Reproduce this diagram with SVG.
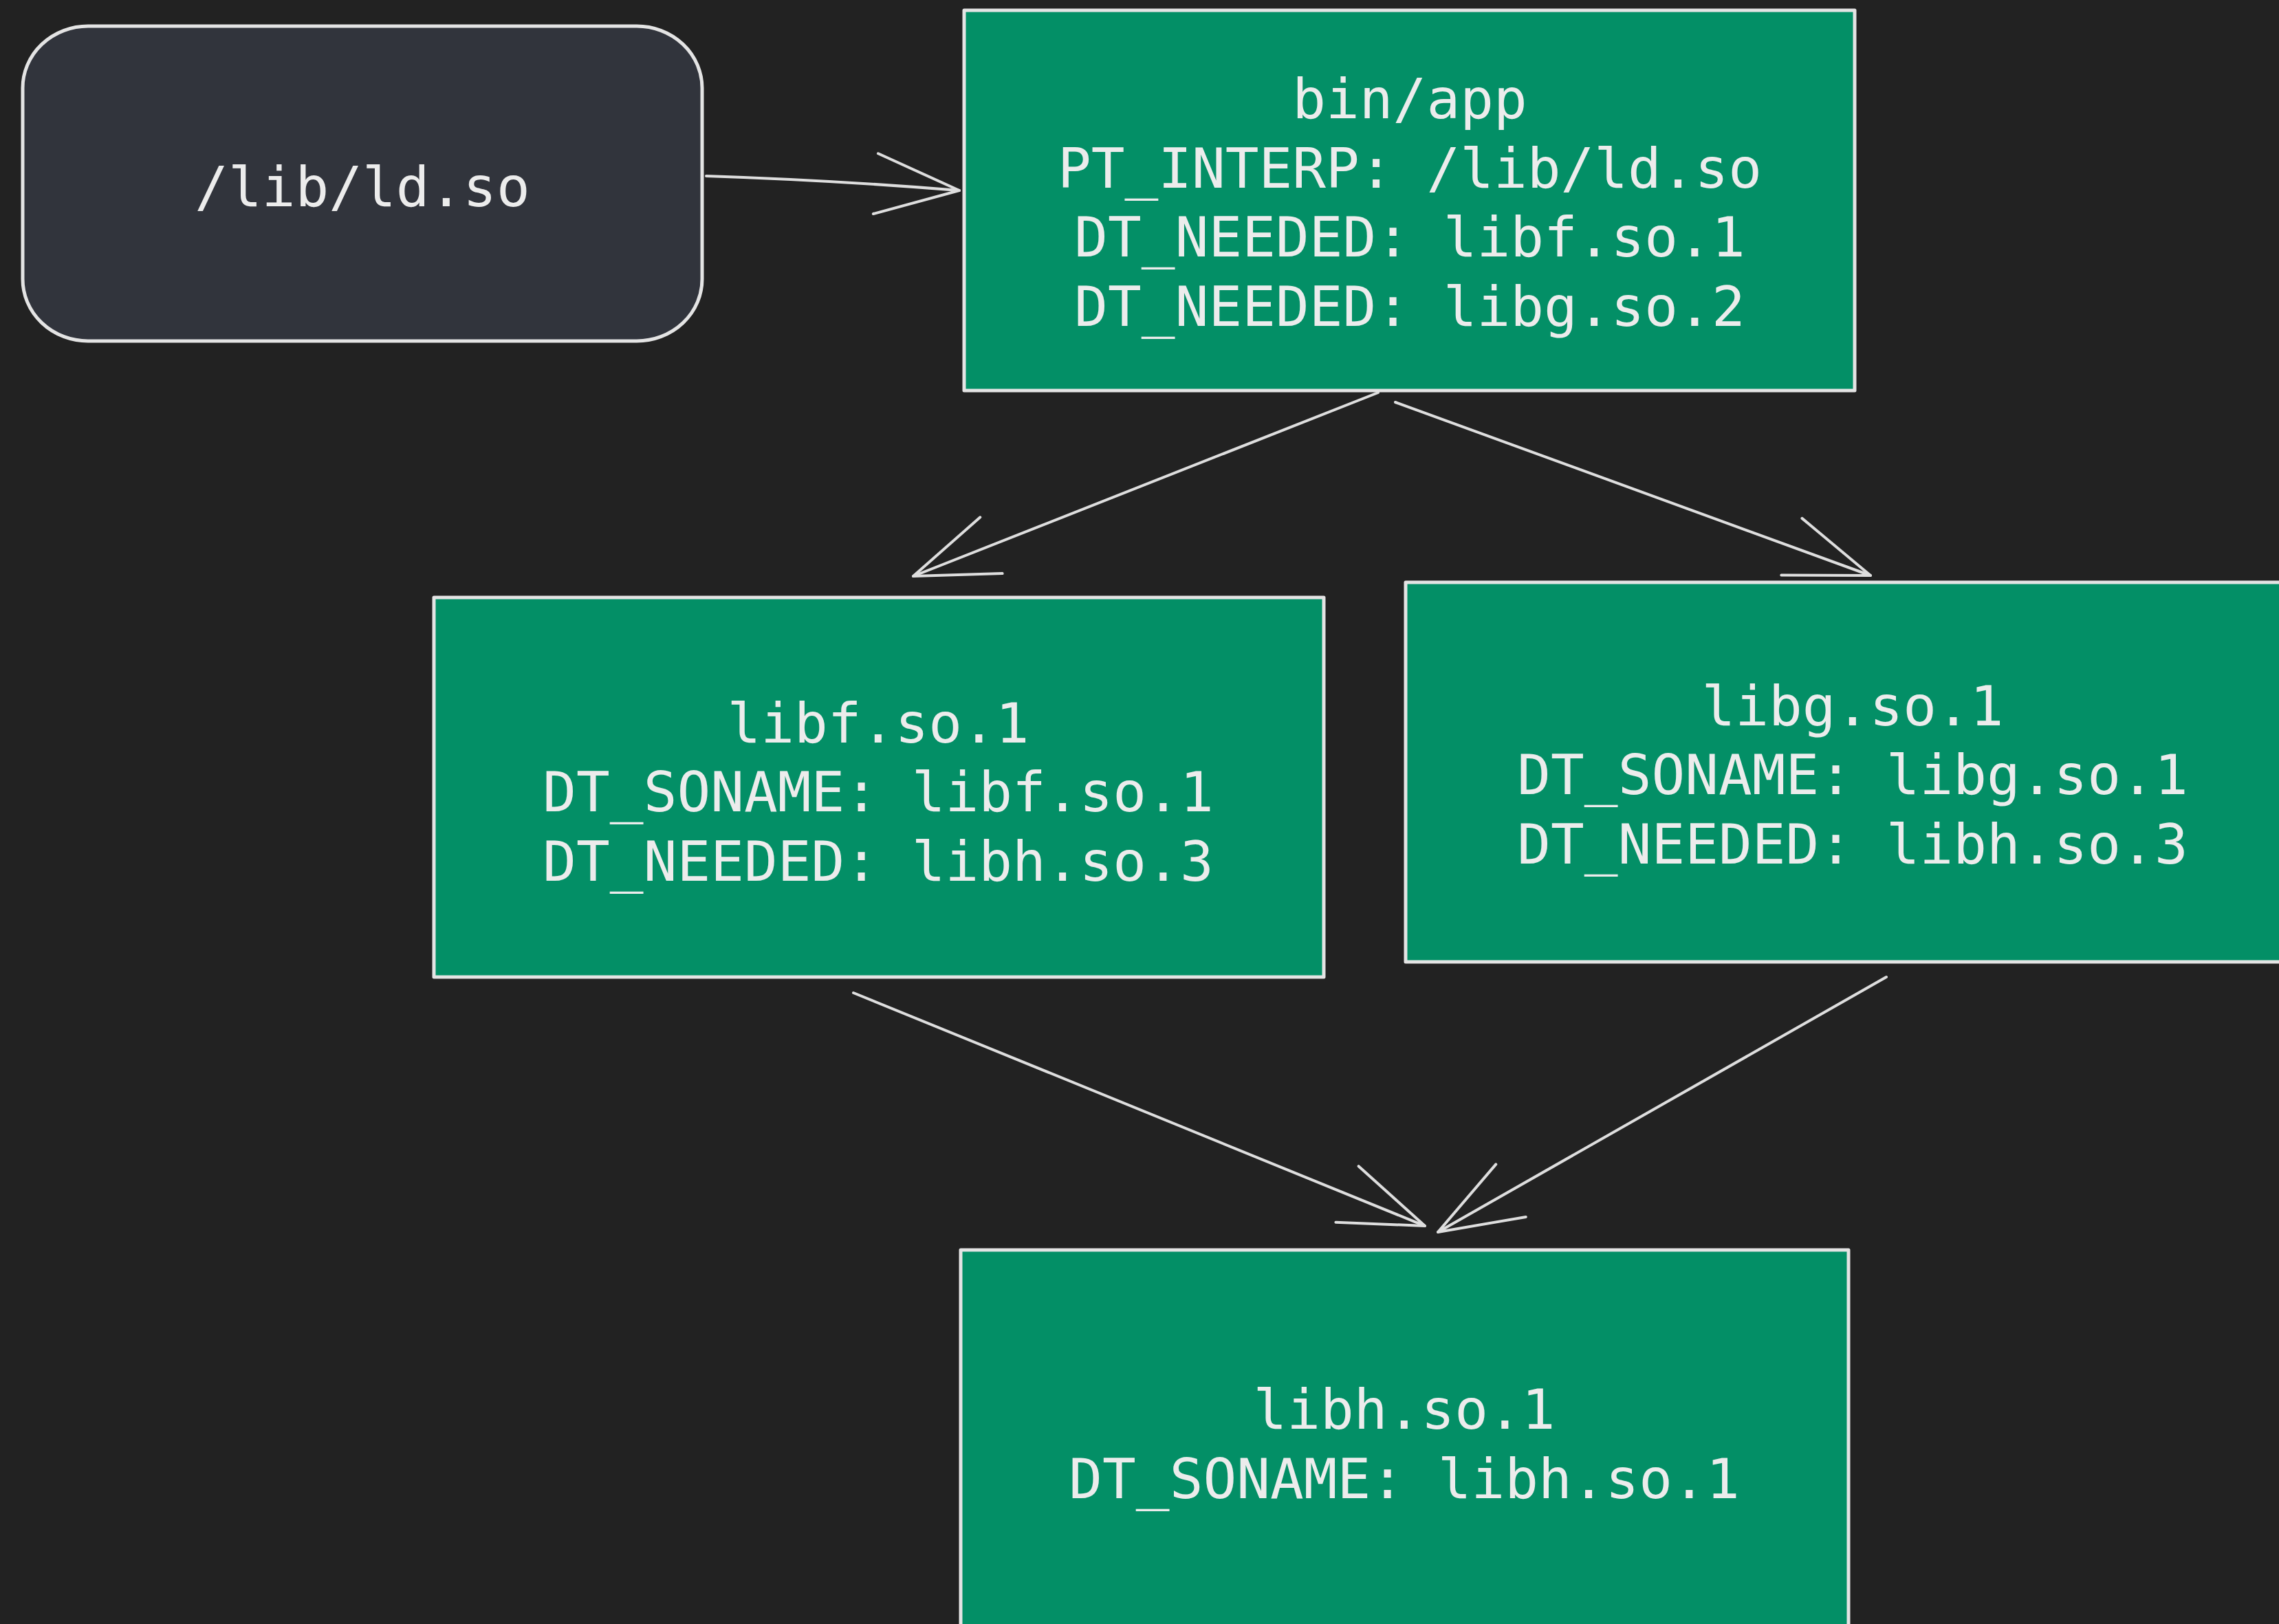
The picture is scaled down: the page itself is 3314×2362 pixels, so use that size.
<svg xmlns="http://www.w3.org/2000/svg" width="3314" height="2362" viewBox="0 0 3314 2362">
<defs>
<style>
.box{fill:#038f66;stroke:#e4e4e4;stroke-width:5;stroke-linejoin:round}
.dark{fill:#31343c;stroke:#e4e4e4;stroke-width:5}
.t{font-family:"DejaVu Sans Mono","Liberation Mono",monospace;font-size:81px;fill:#ececec;text-anchor:middle}
.edge{fill:none;stroke:#dedede;stroke-width:4;stroke-linecap:round;marker-end:url(#head)}
</style>
<marker id="head" markerUnits="userSpaceOnUse" viewBox="-140 -70 150 140" refX="0" refY="0" markerWidth="150" markerHeight="140" orient="auto">
<path d="M-122,-44 L0,0 L-122,44" fill="none" stroke="#dedede" stroke-width="4" stroke-linecap="round" stroke-linejoin="round"/>
</marker>
</defs>
<rect width="3314" height="2362" fill="#222222"/>
<g id="connectors">
<path class="edge" d="M1027,256 Q1210,262 1395,277"/>
<path class="edge" d="M2004,571 L1328,838"/>
<path class="edge" d="M2029,585 L2720,837"/>
<path class="edge" d="M1241,1444 L2072,1783"/>
<path class="edge" d="M2743,1421 L2091,1792"/>
</g>
<g id="ldso">
<rect class="dark" x="33" y="38" width="988" height="458" rx="95" ry="90"/>
<text class="t" x="527" y="300">/lib/ld.so</text>
</g>
<g id="binapp">
<rect class="box" x="1402" y="15" width="1295" height="553"/>
<text class="t" x="2050" y="172">bin/app</text>
<text class="t" x="2050" y="273">PT_INTERP: /lib/ld.so</text>
<text class="t" x="2050" y="373">DT_NEEDED: libf.so.1</text>
<text class="t" x="2050" y="474">DT_NEEDED: libg.so.2</text>
</g>
<g id="libf">
<rect class="box" x="631" y="869" width="1294" height="552"/>
<text class="t" x="1277" y="1080">libf.so.1</text>
<text class="t" x="1277" y="1180">DT_SONAME: libf.so.1</text>
<text class="t" x="1277" y="1281">DT_NEEDED: libh.so.3</text>
</g>
<g id="libg">
<rect class="box" x="2044" y="847" width="1300" height="552"/>
<text class="t" x="2694" y="1055">libg.so.1</text>
<text class="t" x="2694" y="1155">DT_SONAME: libg.so.1</text>
<text class="t" x="2694" y="1256">DT_NEEDED: libh.so.3</text>
</g>
<g id="libh">
<rect class="box" x="1397" y="1818" width="1291" height="560"/>
<text class="t" x="2042" y="2078">libh.so.1</text>
<text class="t" x="2042" y="2179">DT_SONAME: libh.so.1</text>
</g>
</svg>
